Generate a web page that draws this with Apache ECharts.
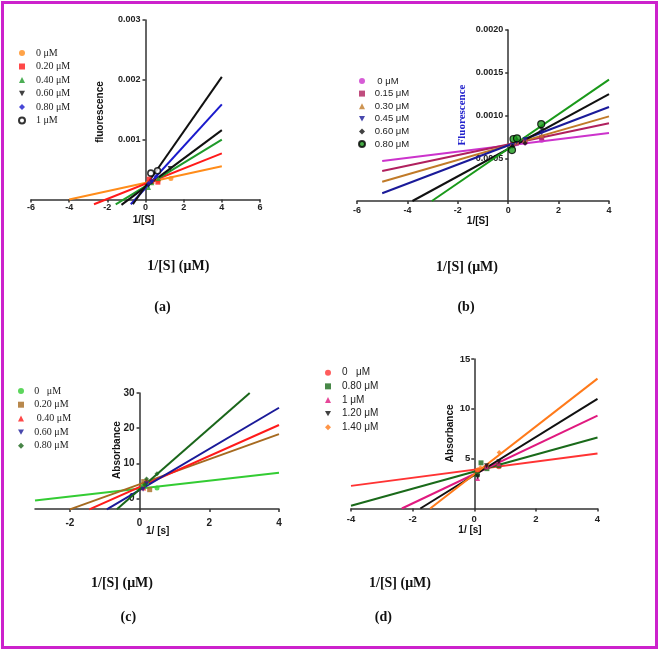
<!DOCTYPE html>
<html><head><meta charset="utf-8">
<script src="https://cdn.jsdelivr.net/npm/echarts@6/dist/echarts.min.js"></script>
<style>html,body{margin:0;padding:0;background:#fff}#c{width:661px;height:651px}</style>
</head><body><div id="c"></div>
<script>
// ---------- Panel (a) ----------
const aNames = ['0 μM','0.20 μM','0.40 μM','0.60 μM','0.80 μM','1 μM'];
const aPoints = [
  [[0.17,0.00029],[0.33,0.00030],[0.67,0.00032],[1.33,0.00035]],
  [[0.19,0.00034],[0.33,0.00030],[0.65,0.00029]],
  [[0.16,0.00020],[0.33,0.00028],[0.67,0.00035]],
  [[0.17,0.00024],[0.33,0.00029],[1.29,0.00052]],
  [[0.17,0.00027],[0.33,0.00031],[0.56,0.00039]],
  [[0.28,0.00044],[0.63,0.00048]]
];
const aLines = [
  [[-4,0],[4,0.000555]],
  [[-2.7,-0.00008],[4,0.00077]],
  [[-1.56,-0.00008],[4,0.001]],
  [[-1.26,-0.00009],[4,0.00116]],
  [[-0.77,-0.00008],[4,0.00159]],
  [[-0.66,-0.00008],[4,0.00205]]
];
// ---------- Panel (b) ----------
const bNames = [' 0 μM','0.15 μM','0.30 μM','0.45 μM','0.60 μM','0.80 μM'];
const bPoints = [
  [[0.17,0.00066],[0.33,0.00067],[0.67,0.00068],[1.33,0.00071]],
  [[0.17,0.00066],[0.33,0.00068],[0.67,0.00070],[1.33,0.00074]],
  [[0.17,0.00067],[0.33,0.00069],[0.67,0.00071],[1.33,0.00077]],
  [[0.17,0.00065],[0.33,0.00069],[0.67,0.00072],[1.33,0.00080]],
  [[0.17,0.00064],[0.33,0.00072],[0.67,0.000675],[1.33,0.00085]],
  [[0.15,0.000596],[0.21,0.000725],[0.35,0.000733],[1.31,0.0009]]
];
const bLines = [
  [[-5,0.000468],[4,0.000795]],
  [[-5,0.000351],[4,0.000909]],
  [[-5,0.000226],[4,0.00099]],
  [[-5,0.00009],[4,0.0011]],
  [[-3.8,0],[4,0.00125]],
  [[-3.03,0],[4,0.00142]]
];
// ---------- Panel (c) ----------
const cNames = ['0   μM','0.20 μM',' 0.40 μM','0.60 μM','0.80 μM'];
const cPoints = [
  [[0.1,3.5],[0.2,4.5],[0.5,3.0]],
  [[0.12,4.8],[0.29,2.5]],
  [[0.12,3.0],[0.2,5.2]],
  [[0.1,2.6],[0.2,4.2]],
  [[0.15,4.0],[0.2,5.5],[0.5,7.0]]
];
const cLines = [
  [[-3,-0.57],[4,7.3]],
  [[-2,-3.1],[4,18.3]],
  [[-1.44,-3.1],[4,20.9]],
  [[-0.94,-3.1],[4,25.8]],
  [[-0.65,-3.1],[3.16,30]]
];
// ---------- Panel (d) ----------
const dNames = ['0   μM','0.80 μM','1 μM','1.20 μM','1.40 μM'];
const dPoints = [
  [[0.1,3.8],[0.4,4.2],[0.8,4.2]],
  [[0.1,3.4],[0.22,4.58],[0.41,4.0],[0.8,4.3]],
  [[0.11,3.0],[0.4,4.2],[0.8,4.5]],
  [[0.11,3.18],[0.4,4.3],[0.8,4.7]],
  [[0.1,3.9],[0.2,4.1],[0.81,5.63]]
];
const dLines = [
  [[-4,2.27],[4,5.51]],
  [[-4,0.27],[4,7.12]],
  [[-2.35,0],[4,9.32]],
  [[-1.75,0],[4,11.0]],
  [[-1.43,0],[4,13.03]]
];
// tick values
const aXTicks = [-6,-4,-2,0,2,4,6], aYTicks = [0.001,0.002,0.003];
const bXTicks = [-6,-4,-2,0,2,4], bYTicks = [0.0005,0.001,0.0015,0.002];
const cXTicks = [-2,0,2,4], cYTicks = [0,10,20,30];
const dXTicks = [-4,-2,0,2,4], dYTicks = [5,10,15];

const DOWN = 'path://M0,0 L10,0 L5,9 Z';
const panels = [
  {key:'a', names:aNames, pts:aPoints, lines:aLines,
   colors:['#ff8c1a','#ff1a1a','#1f9a2a','#111111','#1a1acc','#111111'],
   symbols:['circle','rect','triangle',DOWN,'diamond','circle']},
  {key:'b', names:bNames, pts:bPoints, lines:bLines,
   colors:['#cc33cc','#b0205e','#c07a28','#1a1a99','#111111','#1a991a'],
   symbols:['circle','rect','triangle',DOWN,'diamond','circle']},
  {key:'c', names:cNames, pts:cPoints, lines:cLines,
   colors:['#33cc33','#a66a20','#ff1a1a','#1a1a99','#1a661a'],
   symbols:['circle','rect','triangle',DOWN,'diamond']},
  {key:'d', names:dNames, pts:dPoints, lines:dLines,
   colors:['#ff3333','#1a6a1a','#e0197f','#111111','#ff7a1a'],
   symbols:['circle','rect','triangle',DOWN,'diamond']}
];

function axis(gi, min, max, ticks, fmt, onZero, fs, margin, offset){
  return {type:'value', gridIndex:gi, min:min, max:max, offset:offset||0,
    splitLine:{show:false},
    axisLine:{onZero:onZero, lineStyle:{color:'#333', width:1.5}},
    axisTick:{customValues:ticks, length:3, lineStyle:{color:'#333', width:1.5}},
    axisLabel:{customValues:ticks, formatter:fmt, color:'#222', fontWeight:'bold',
      fontFamily:'Liberation Sans, Arial', fontSize:fs, margin:margin}};
}
const xAxis = [
  axis(0,-6,6,aXTicks,v=>String(v),false,9,4),
  axis(1,-6,4,bXTicks,v=>String(v),false,9,5),
  axis(2,-3,4,cXTicks,v=>String(v),false,10,9),
  axis(3,-4,4,dXTicks,v=>String(v),false,9.5,6)
];
// y axes are shifted (offset) so that they stand at x = 0 of each panel
const yAxis = [
  axis(0,0,0.003,aYTicks,v=>v.toFixed(3),false,9,5,-114.5),
  axis(1,0,0.002,bYTicks,v=>v.toFixed(4),false,9,5,-151.2),
  axis(2,-3,30,cYTicks,v=>String(v),false,10,5,-104.57),
  axis(3,0,15,dYTicks,v=>String(v),false,9.5,4,-123.25)
];

const series = [];
panels.forEach((p,gi)=>{
  p.lines.forEach((ln,i)=>{
    series.push({type:'line', name:p.key+'-line'+i, xAxisIndex:gi, yAxisIndex:gi,
      data:ln, showSymbol:false, clip:false, silent:true, z:2,
      lineStyle:{color:p.colors[i], width:2}});
  });
  p.pts.forEach((pt,i)=>{
    const open = (p.key==='a' && i===5);
    const ringed = (p.key==='b' && i===5);
    series.push({type:'scatter', name:p.key+'|'+p.names[i], xAxisIndex:gi, yAxisIndex:gi,
      data:pt, symbol:p.symbols[i], symbolSize: ringed?7:(open?6:5), z:3,
      itemStyle: open ? {color:'#fff', borderColor:'#000', borderWidth:1.6}
                : ringed ? {color:p.colors[i], borderColor:'#000', borderWidth:1.2}
                : {color:p.colors[i]}});
  });
});

function legend(p, left, top, gap, font, fs, pad){
  return {orient:'vertical', left:left, top:top, itemGap:gap, itemWidth:6, itemHeight:6,
    padding:0,
    data:p.names.map(n=>p.key+'|'+n), formatter:n=>n.split('|')[1],
    selectedMode:false,
    textStyle:{fontFamily:font, fontSize:fs, color:'#222', lineHeight:10, padding:[0,0,0,pad]}};
}
const SERIF='Liberation Serif, Times New Roman, serif', SANS='Liberation Sans, Arial, sans-serif';
const legends = [
  legend(panels[0],18,48,3.5,SERIF,10,6),
  legend(panels[1],358,76,2.6,SANS,9.5,4.7),
  legend(panels[2],18,386,3.7,SERIF,10,5.3),
  legend(panels[3],325,367.7,3.65,SANS,10,6)
];

function txt(x,y,s,opt){
  return {type:'text', x:x, y:y, rotation:opt.rot||0, z:10,
    style:{text:s, fill:opt.color||'#111', font:opt.font, align:'center', verticalAlign:'middle'}};
}
const bold10 = 'bold 10px Liberation Sans, Arial';
const big = 'bold 14px Liberation Serif, Times New Roman';
const graphic = [
  {type:'rect', shape:{x:2.5,y:2.5,width:654,height:645}, style:{fill:'none', stroke:'#cc22cc', lineWidth:3}, z:20},
  txt(100,112,'fluorescence',{font:bold10, rot:Math.PI/2}),
  txt(143.6,220.5,'1/[S]',{font:bold10}),
  txt(461.7,115,'Fluorescence',{font:'bold 11px Liberation Serif, Times New Roman', rot:Math.PI/2, color:'#2222cc'}),
  txt(477.7,221,'1/[S]',{font:bold10}),
  txt(117.7,450,'Absorbance',{font:bold10, rot:Math.PI/2}),
  txt(157.7,531,'1/ [s]',{font:bold10}),
  txt(450.7,433.3,'Absorbance',{font:bold10, rot:Math.PI/2}),
  txt(470,530.7,'1/ [s]',{font:bold10}),
  txt(178.3,266.7,'1/[S] (μM)',{font:big}),
  txt(162.5,307.3,'(a)',{font:big}),
  txt(467,267,'1/[S] (μM)',{font:big}),
  txt(466,307.3,'(b)',{font:big}),
  txt(122,583.3,'1/[S] (μM)',{font:big}),
  txt(128.3,617.3,'(c)',{font:big}),
  txt(400,583.3,'1/[S] (μM)',{font:big}),
  txt(383.3,617.3,'(d)',{font:big})
];

const chart = echarts.init(document.getElementById('c'), null, {renderer:'canvas'});
chart.setOption({
  animation:false,
  backgroundColor:'#fff',
  grid:[
    {left:31, top:20, width:229, height:179.5},
    {left:357, top:30, width:252, height:171},
    {left:35, top:393, width:244, height:116},
    {left:351, top:359, width:246.5, height:149.5}
  ],
  xAxis:xAxis, yAxis:yAxis, legend:legends, series:series, graphic:graphic
});
</script></body></html>
